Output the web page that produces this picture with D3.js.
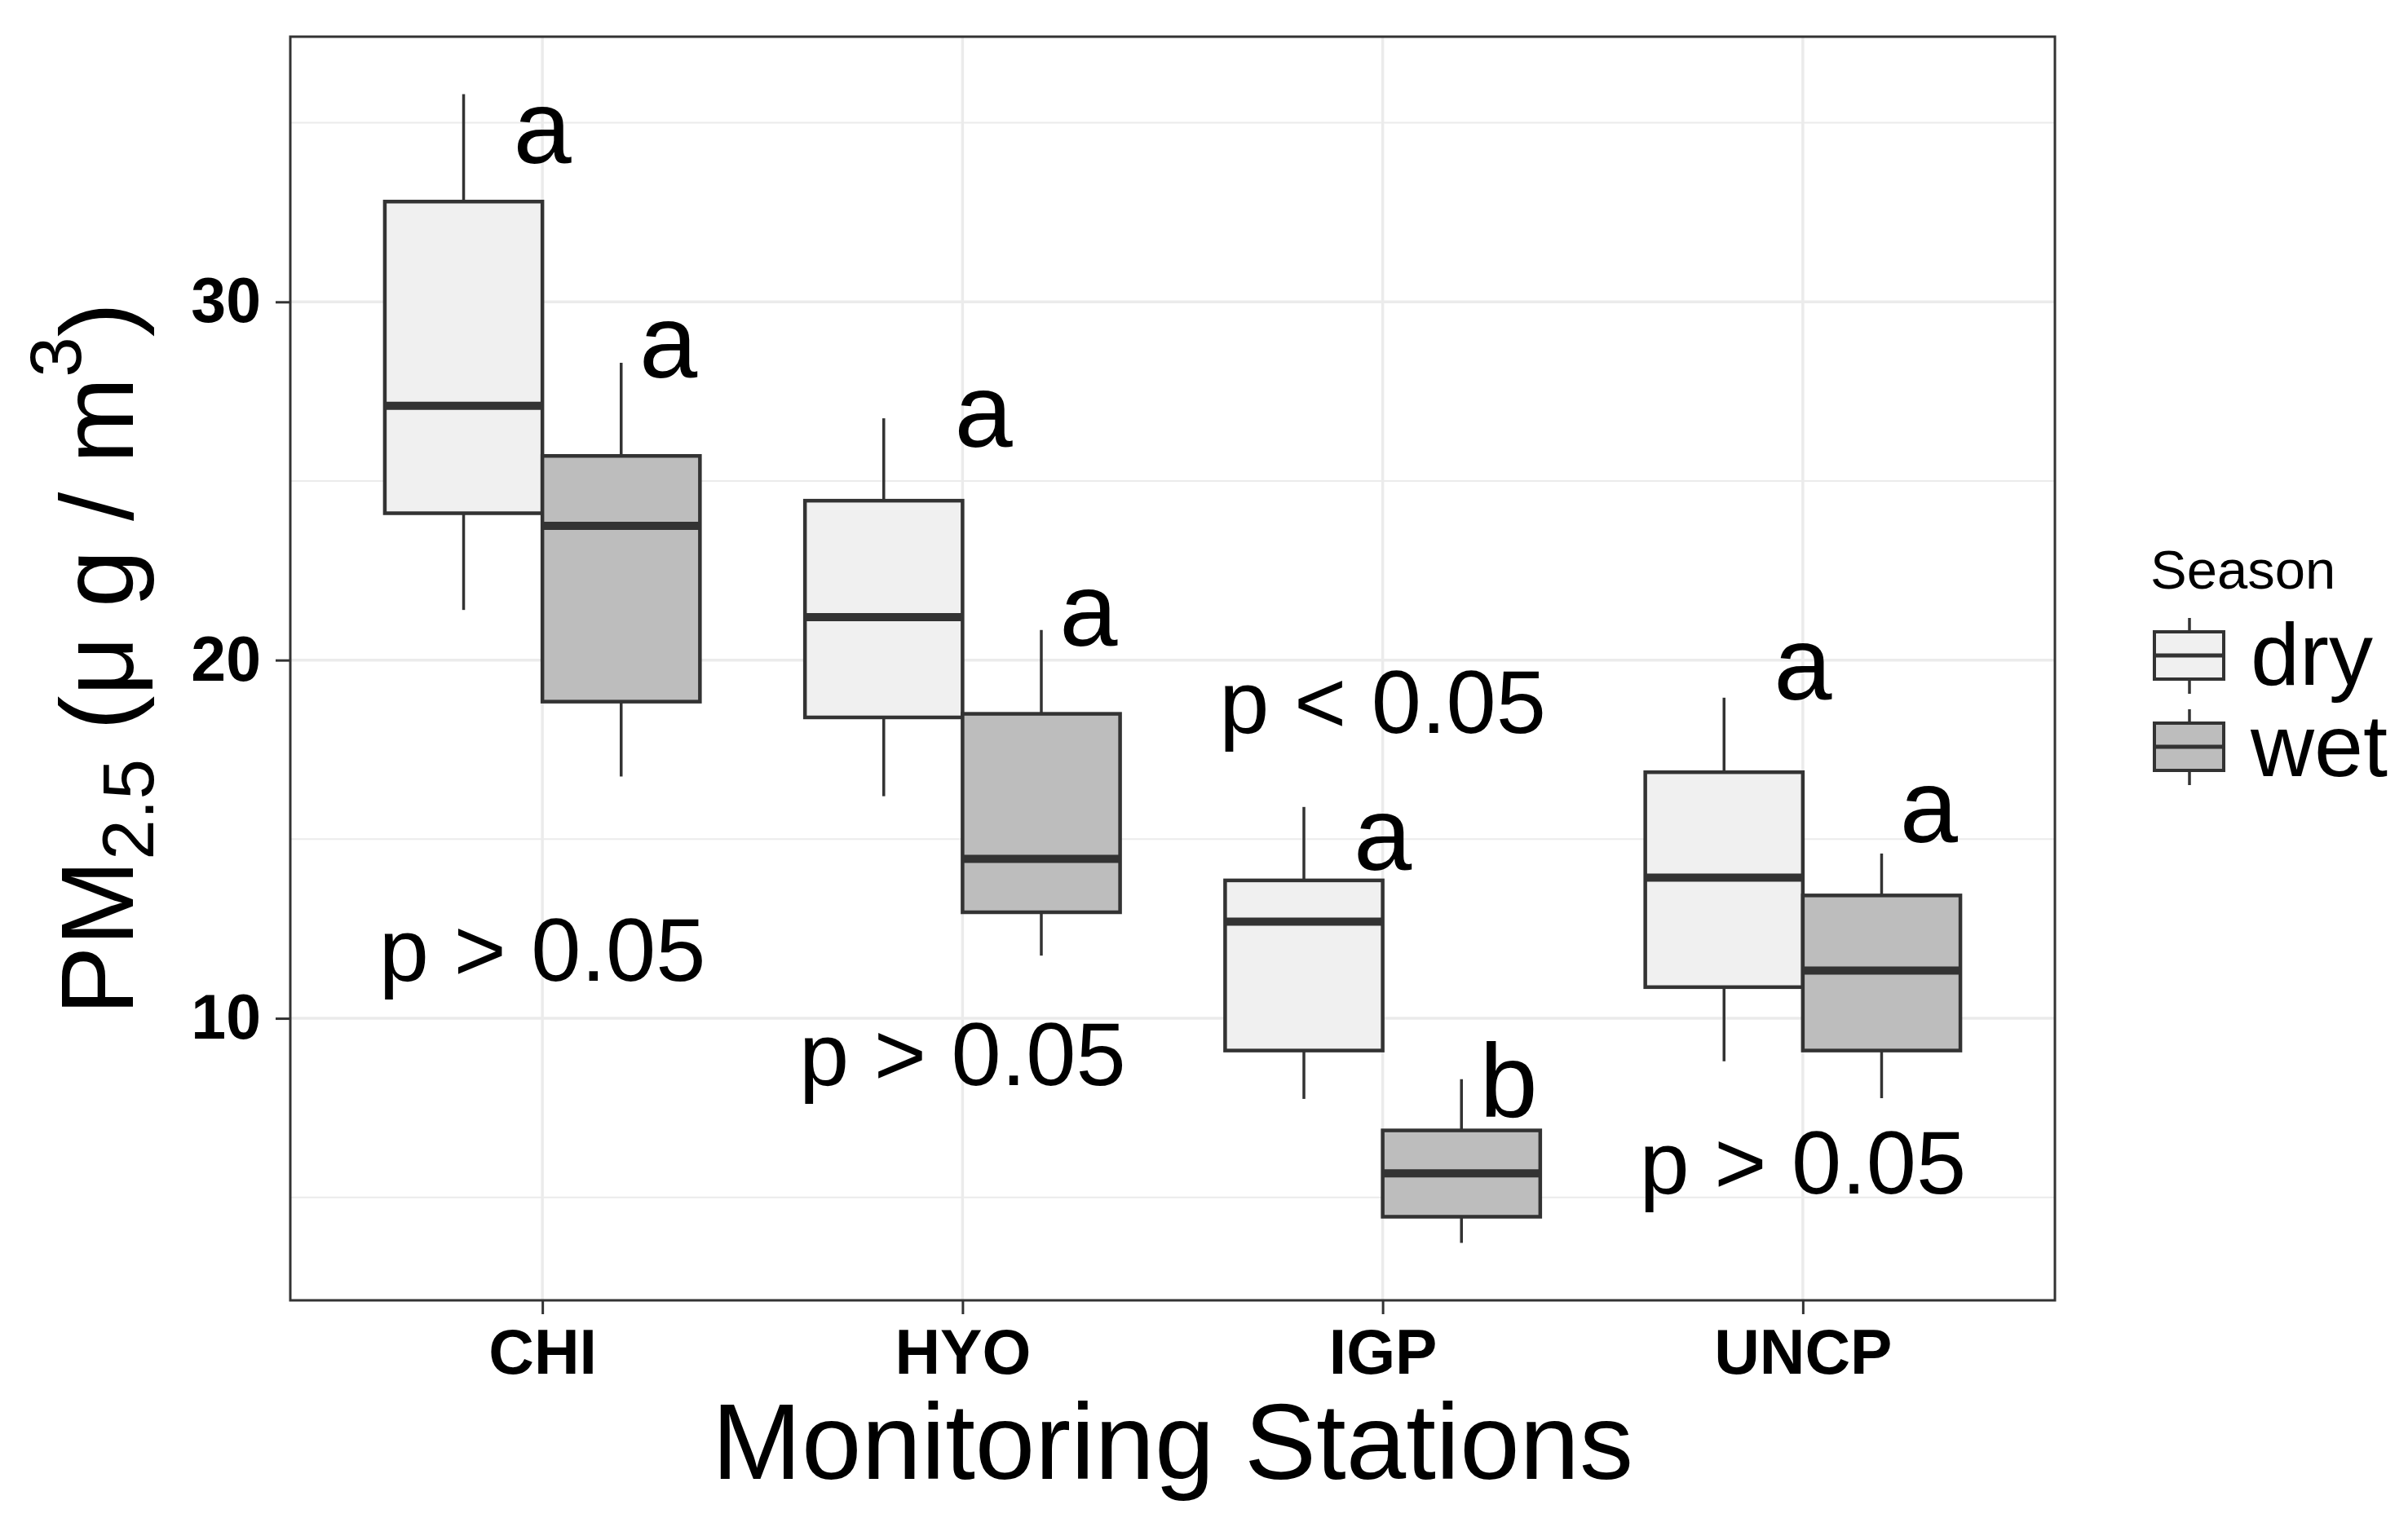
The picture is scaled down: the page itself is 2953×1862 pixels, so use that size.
<!DOCTYPE html>
<html>
<head>
<meta charset="utf-8">
<script src="https://cdn.jsdelivr.net/npm/d3@7"></script>
<style>
  body { margin: 0; background: #fff; }
  text { font-family: "Liberation Sans", Arial, Helvetica, sans-serif; }
</style>
</head>
<body>
<div id="chart"></div>
<script>
var svgWidth = 2953;
var svgHeight = 1862;

var margin = { top: 45, right: 433, bottom: 267, left: 356 };
var width = svgWidth - margin.left - margin.right;
var height = svgHeight - margin.top - margin.bottom;

// data
var stations = ["CHI", "HYO", "IGP", "UNCP"];
var seasons = ["dry", "wet"];
var seasonFill = ["#f0f0f0", "#bdbdbd"];

// [lower whisker, Q1, median, Q3, upper whisker]
var dryStats = [
  [21.4, 24.1, 27.1, 32.8, 35.8],
  [16.2, 18.4, 21.2, 24.45, 26.75],
  [7.75, 9.1, 12.7, 13.85, 15.9],
  [8.8, 10.87, 13.93, 16.87, 18.95]
];
var wetStats = [
  [16.75, 18.84, 23.75, 25.7, 28.3],
  [11.75, 12.96, 14.45, 18.5, 20.84],
  [3.73, 4.46, 5.67, 6.87, 8.3],
  [7.77, 9.1, 11.33, 13.43, 14.6]
];

// significance letters: station, offset from station (in category units), y value
var letterStation = ["CHI", "CHI", "HYO", "HYO", "IGP", "IGP", "UNCP", "UNCP"];
var letterLabels = ["a", "a", "a", "a", "a", "b", "a", "a"];
var letterOffset = [0, 0.3, 0.05, 0.3, 0, 0.3, 0, 0.3];
var letterY = [33.87, 27.9, 25.95, 20.4, 14.15, 7.24, 18.9, 14.92];

var pLabels = ["p > 0.05", "p > 0.05", "p < 0.05", "p > 0.05"];
var pY = [11.05, 8.14, 17.97, 5.1];

var yTicks = [10, 20, 30];
var yMinor = [5, 15, 25, 35];

var svg = d3.select("#chart")
  .append("svg")
  .attr("width", svgWidth)
  .attr("height", svgHeight);

svg.append("rect")
  .attr("width", svgWidth)
  .attr("height", svgHeight)
  .attr("fill", "#fff");

var chartGroup = svg.append("g")
  .attr("transform", `translate(${margin.left}, ${margin.top})`);

// build box records
var boxes = [];
stations.forEach((st, i) => {
  boxes.push({ station: st, season: 0, s: dryStats[i] });
  boxes.push({ station: st, season: 1, s: wetStats[i] });
});

// scales (ggplot style 5% expansion on y, 0.6 on discrete x)
var xScale = d3.scalePoint()
  .domain(stations)
  .range([0, width])
  .padding(0.6);
var step = xScale.step();

var lo = d3.min(boxes, d => d.s[0]);
var hi = d3.max(boxes, d => d.s[4]);
var pad = (hi - lo) * 0.05;
var yScale = d3.scaleLinear()
  .domain([lo - pad, hi + pad])
  .range([height, 0]);

// grid
var grid = chartGroup.append("g");
grid.selectAll(".minor")
  .data(yMinor)
  .join("line")
  .attr("x1", 0).attr("x2", width)
  .attr("y1", d => yScale(d)).attr("y2", d => yScale(d))
  .attr("stroke", "#ebebeb")
  .attr("stroke-width", 2);
grid.selectAll(".major")
  .data(yTicks)
  .join("line")
  .attr("x1", 0).attr("x2", width)
  .attr("y1", d => yScale(d)).attr("y2", d => yScale(d))
  .attr("stroke", "#ebebeb")
  .attr("stroke-width", 3.5);
grid.selectAll(".vmajor")
  .data(stations)
  .join("line")
  .attr("x1", d => xScale(d)).attr("x2", d => xScale(d))
  .attr("y1", 0).attr("y2", height)
  .attr("stroke", "#ebebeb")
  .attr("stroke-width", 3.5);

// boxes
var boxW = step * 0.375;
var boxG = chartGroup.selectAll(".box")
  .data(boxes)
  .join("g")
  .attr("transform", d => `translate(${xScale(d.station) + (d.season === 0 ? -1 : 1) * boxW / 2}, 0)`);

boxG.append("line")
  .attr("x1", 0).attr("x2", 0)
  .attr("y1", d => yScale(d.s[4])).attr("y2", d => yScale(d.s[3]))
  .attr("stroke", "#333").attr("stroke-width", 3.5);
boxG.append("line")
  .attr("x1", 0).attr("x2", 0)
  .attr("y1", d => yScale(d.s[1])).attr("y2", d => yScale(d.s[0]))
  .attr("stroke", "#333").attr("stroke-width", 3.5);
boxG.append("rect")
  .attr("x", -boxW / 2)
  .attr("width", boxW)
  .attr("y", d => yScale(d.s[3]))
  .attr("height", d => yScale(d.s[1]) - yScale(d.s[3]))
  .attr("fill", d => seasonFill[d.season])
  .attr("stroke", "#333")
  .attr("stroke-width", 4.5);
boxG.append("line")
  .attr("x1", -boxW / 2).attr("x2", boxW / 2)
  .attr("y1", d => yScale(d.s[2])).attr("y2", d => yScale(d.s[2]))
  .attr("stroke", "#333").attr("stroke-width", 10);

// letters
chartGroup.selectAll(".letter")
  .data(letterLabels)
  .join("text")
  .attr("x", (d, i) => xScale(letterStation[i]) + letterOffset[i] * step)
  .attr("y", (d, i) => yScale(letterY[i]))
  .attr("text-anchor", "middle")
  .attr("font-size", 128)
  .attr("fill", "#000")
  .text(d => d);

// p values
chartGroup.selectAll(".pval")
  .data(pLabels)
  .join("text")
  .attr("x", (d, i) => xScale(stations[i]))
  .attr("y", (d, i) => yScale(pY[i]))
  .attr("text-anchor", "middle")
  .attr("font-size", 110)
  .attr("fill", "#000")
  .text(d => d);

// panel border
chartGroup.append("rect")
  .attr("width", width)
  .attr("height", height)
  .attr("fill", "none")
  .attr("stroke", "#333")
  .attr("stroke-width", 3);

// axes
var leftAxis = d3.axisLeft(yScale).tickValues(yTicks).tickSize(18).tickPadding(18);
var bottomAxis = d3.axisBottom(xScale).tickSize(17).tickPadding(18);

var yAxis = chartGroup.append("g")
  .call(leftAxis)
  .attr("font-size", 77)
  .attr("font-weight", "bold")
  .attr("font-family", "Liberation Sans, Arial, sans-serif");
var xAxis = chartGroup.append("g")
  .attr("transform", `translate(0, ${height})`)
  .call(bottomAxis)
  .attr("font-size", 77)
  .attr("font-weight", "bold")
  .attr("font-family", "Liberation Sans, Arial, sans-serif");

[yAxis, xAxis].forEach(ax => {
  ax.select(".domain").remove();
  ax.selectAll(".tick line").attr("stroke", "#333").attr("stroke-width", 3);
  ax.selectAll(".tick text").attr("fill", "#000");
});

// axis titles
svg.append("text")
  .attr("x", margin.left + width / 2)
  .attr("y", 1814)
  .attr("text-anchor", "middle")
  .attr("font-size", 132)
  .attr("fill", "#000")
  .text("Monitoring Stations");

var yTitle = svg.append("text")
  .attr("transform", `translate(163, ${margin.top + height / 2 - 12}) rotate(-90)`)
  .attr("text-anchor", "middle")
  .attr("font-size", 127)
  .attr("fill", "#000");
yTitle.append("tspan").text("PM");
yTitle.append("tspan").attr("font-size", 89).attr("dy", 25).text("2.5");
yTitle.append("tspan").attr("dy", -25).text(" (\u03bc g / m");
yTitle.append("tspan").attr("font-size", 89).attr("dy", -64).text("3");
yTitle.append("tspan").attr("dy", 64).text(")");

// legend
var legend = svg.append("g");
legend.append("text")
  .attr("x", 2637)
  .attr("y", 722)
  .attr("font-size", 67)
  .attr("fill", "#000")
  .text("Season");

var keyTop = [758, 870];
var key = legend.selectAll(".key")
  .data(seasons)
  .join("g")
  .attr("transform", (d, i) => `translate(2642, ${keyTop[i]})`);
key.append("line")
  .attr("x1", 43).attr("x2", 43)
  .attr("y1", 0).attr("y2", 93)
  .attr("stroke", "#333").attr("stroke-width", 3.5);
key.append("rect")
  .attr("x", 0).attr("y", 17)
  .attr("width", 85).attr("height", 58)
  .attr("fill", (d, i) => seasonFill[i])
  .attr("stroke", "#333").attr("stroke-width", 4);
key.append("line")
  .attr("x1", 0).attr("x2", 85)
  .attr("y1", 46).attr("y2", 46)
  .attr("stroke", "#333").attr("stroke-width", 5);
key.append("text")
  .attr("x", 118)
  .attr("y", 82)
  .attr("font-size", 108)
  .attr("fill", "#000")
  .text(d => d);
</script>
</body>
</html>
